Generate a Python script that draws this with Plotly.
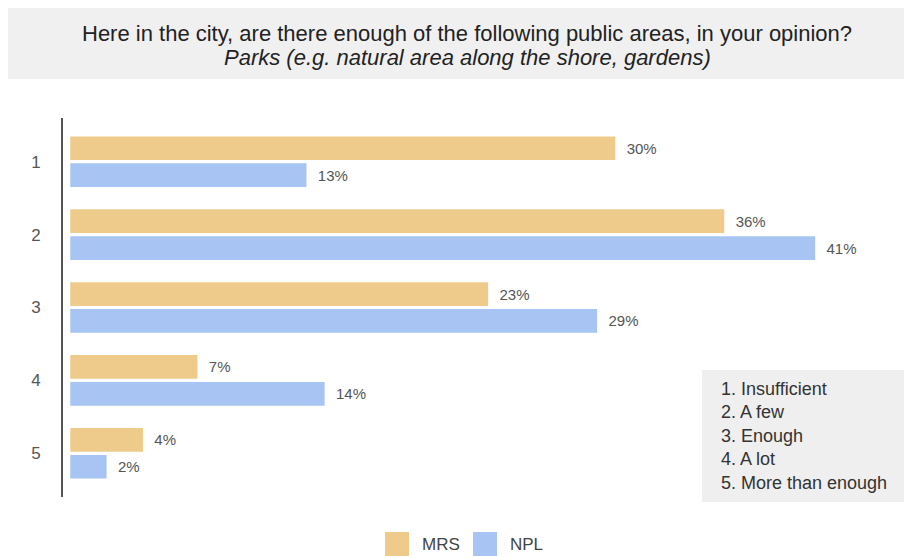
import plotly.graph_objects as go

categories = ["1", "2", "3", "4", "5"]
mrs_values = [30, 36, 23, 7, 4]
npl_values = [13, 41, 29, 14, 2]
series_names = ["MRS", "NPL"]
scale_labels = ["1. Insufficient", "2. A few", "3. Enough", "4. A lot", "5. More than enough"]
title_main = "Here in the city, are there enough of the following public areas, in your opinion?"
title_sub = "Parks (e.g. natural area along the shore, gardens)"

# the page body has an 8px margin, so the figure is drawn 8px smaller and shifted
OFF = 8
W, H = 912 - OFF, 558 - OFF
L, R, T, B = 63 - OFF, 14 - OFF, 118 - OFF, 61
pw, ph = W - L - R, H - T - B


def px(x):
    return (x - OFF - L) / pw


def py(y):
    return (H - B - (y - OFF)) / ph


MRS_COLOR = "#EFCB8B"
NPL_COLOR = "#A7C4F2"
FONT = "Liberation Sans, Arial, sans-serif"
PAD = "\u00a0\u00a0"

fig = go.Figure()
for name, vals, col in zip(series_names, [mrs_values, npl_values], [MRS_COLOR, NPL_COLOR]):
    fig.add_trace(
        go.Bar(
            y=categories,
            x=vals,
            name=name,
            orientation="h",
            marker=dict(color=col, line=dict(width=0)),
            text=[f"{PAD}{v}%" for v in vals],
            textposition="outside",
            textfont=dict(size=15, color="#555555", family=FONT),
            cliponaxis=False,
            showlegend=False,
        )
    )

shapes = [
    # title box
    dict(type="rect", xref="paper", yref="paper", x0=px(8), x1=px(912), y0=py(79), y1=py(8),
         fillcolor="#F0F0F0", line=dict(width=0), layer="below"),
    # scale legend box
    dict(type="rect", xref="paper", yref="paper", x0=px(702), x1=px(908), y0=py(502), y1=py(370),
         fillcolor="#EFEFEF", line=dict(width=0), layer="above"),
]
# series legend swatches
for col, x0 in [(MRS_COLOR, 385), (NPL_COLOR, 473)]:
    shapes.append(dict(type="rect", xref="paper", yref="paper", x0=px(x0), x1=px(x0 + 24),
                       y0=py(556), y1=py(532), fillcolor=col, line=dict(width=0)))

annotations = [
    dict(text=title_main, xref="paper", yref="paper", x=px(467), y=py(33), showarrow=False,
         font=dict(size=22, color="#222222", family=FONT), xanchor="center", yanchor="middle"),
    dict(text=f"<i>{title_sub}</i>", xref="paper", yref="paper", x=px(467), y=py(58), showarrow=False,
         font=dict(size=22, color="#222222", family=FONT), xanchor="center", yanchor="middle"),
    dict(text="<br>".join(scale_labels), xref="paper", yref="paper", x=px(719), y=py(436),
         showarrow=False, align="left", xanchor="left", yanchor="middle",
         font=dict(size=18, color="#333333", family=FONT)),
]
for name, x0 in zip(series_names, [420, 508]):
    annotations.append(dict(text=name, xref="paper", yref="paper", x=px(x0), y=py(544),
                            showarrow=False, xanchor="left", yanchor="middle",
                            font=dict(size=17, color="#444444", family=FONT)))

fig.update_layout(
    width=W,
    height=H,
    margin=dict(l=L, r=R, t=T, b=B, autoexpand=False),
    paper_bgcolor="white",
    plot_bgcolor="white",
    barmode="group",
    bargap=0.26,
    bargroupgap=0.12,
    font=dict(family=FONT),
    xaxis=dict(range=[-0.4, 46.0], visible=False, fixedrange=True),
    yaxis=dict(
        range=[4.6, -0.6],
        showline=True,
        linecolor="#555555",
        linewidth=2,
        showgrid=False,
        ticks="",
        ticklabelstandoff=17,
        tickfont=dict(size=17, color="#555555", family=FONT),
    ),
    shapes=shapes,
    annotations=annotations,
)

fig.write_html("out.html")
